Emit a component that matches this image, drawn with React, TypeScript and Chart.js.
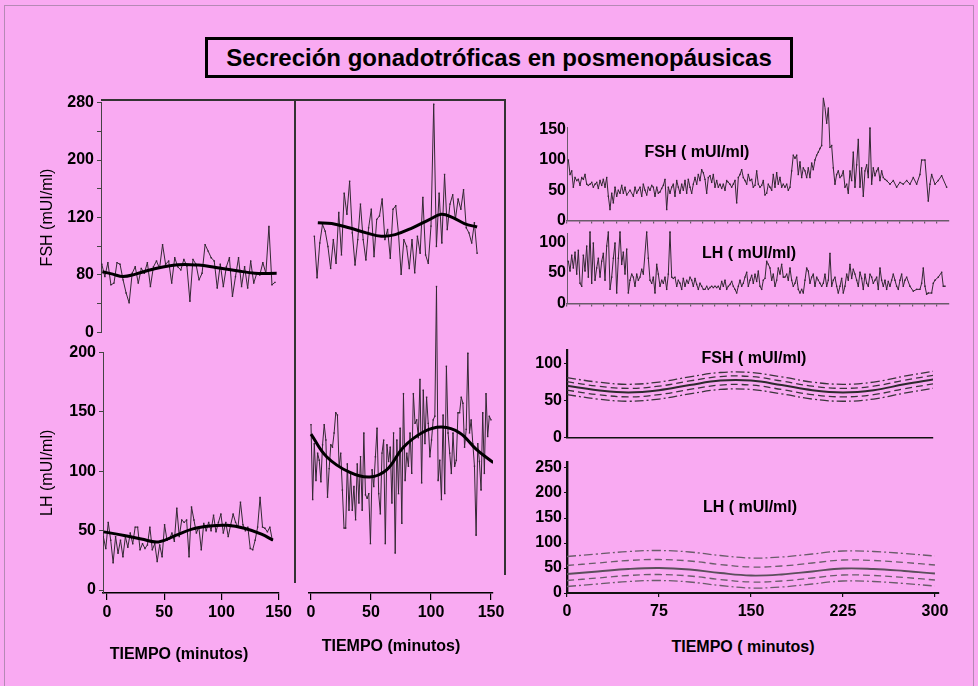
import React, { useEffect, useRef } from "react";
import { Chart, registerables } from "chart.js";

Chart.register(...registerables);

const FONT = "'Liberation Sans', Arial, Helvetica, sans-serif";
const PINK = "rgb(249,170,242)";
const TRACE = "#332833";

// ---------------- data ----------------
// Left column, FSH (axis labels 0/80/120/200/280 sit at scale units 0/70/140/210/280)
const FSH_AXIS_TICKS = [0, 35, 70, 105, 140, 175, 210, 245, 280];
const FSH_AXIS_LABELS = ["0", "", "80", "", "120", "", "200", "", "280"];
const LH_AXIS_TICKS = [0, 50, 100, 150, 200];
const LH_AXIS_LABELS = ["0", "50", "100", "150", "200"];
const TIME_TICKS = [0, 50, 100, 150];
const TIME_LABELS = ["0", "50", "100", "150"];

const LEFT_FSH_T0 = -4.5;
const LEFT_FSH_DT = 2.65;
const LEFT_FSH = [83, 68, 85, 58, 60, 85, 83, 64, 48, 36, 72, 80, 60, 78, 72, 85, 56, 80, 87, 78, 107, 83, 87, 60, 91, 80, 76, 89, 81, 38, 89, 83, 64, 72, 107, 99, 91, 87, 54, 83, 56, 80, 91, 44, 68, 91, 56, 80, 54, 87, 60, 72, 70, 85, 72, 129, 58, 61];
const LEFT_FSH_FIT_T = [-4, 5, 14, 25, 40, 62, 80, 95, 112, 129, 148];
const LEFT_FSH_FIT = [74, 71, 68, 71, 77, 82.5, 82, 79, 75.5, 72, 72];

const LEFT_LH_T0 = -3.2;
const LEFT_LH_DT = 2.14;
const LEFT_LH = [45, 35, 57, 42, 23, 45, 31, 42, 28, 45, 36, 48, 39, 53, 53, 34, 39, 35, 38, 53, 34, 39, 24, 38, 28, 55, 42, 43, 48, 41, 69, 45, 59, 57, 59, 28, 70, 59, 48, 53, 34, 56, 50, 57, 50, 63, 49, 57, 64, 48, 57, 45, 55, 64, 57, 53, 74, 55, 50, 53, 35, 34, 42, 53, 78, 53, 52, 49, 53, 42];
const LEFT_LH_FIT_T = [-3, 15, 30, 45, 60, 75, 90, 105, 120, 135, 145];
const LEFT_LH_FIT = [49, 46, 43, 40.5, 46, 51.5, 54, 54.5, 52, 47, 42];

// Middle column
const MID_FSH_T0 = 0;
const MID_FSH_DT = 2.35;
const MID_FSH = [119, 70, 111, 133, 125, 107, 81, 115, 87, 147, 97, 170, 145, 184, 123, 85, 115, 157, 115, 91, 129, 151, 95, 139, 143, 163, 115, 127, 93, 151, 155, 123, 74, 115, 107, 81, 115, 76, 119, 99, 165, 97, 87, 131, 275, 107, 170, 111, 192, 127, 157, 168, 139, 163, 151, 174, 129, 123, 111, 135, 99];
const MID_FSH_FIT_T = [3, 15, 30, 45, 58, 70, 85, 100, 110, 120, 130, 141];
const MID_FSH_FIT = [135, 134, 129, 123, 119, 121, 129, 139, 145, 141, 134, 130];

const MID_LH_T0 = 0;
const MID_LH_DT = 1.376;
const MID_LH = [139, 76, 123, 92, 115, 109, 91, 122, 139, 126, 78, 102, 122, 120, 132, 149, 147, 104, 115, 84, 52, 52, 106, 67, 98, 67, 87, 59, 106, 73, 112, 67, 132, 80, 77, 81, 39, 101, 87, 112, 136, 81, 64, 115, 126, 39, 122, 108, 120, 73, 132, 31, 126, 81, 136, 56, 165, 92, 115, 104, 132, 98, 165, 140, 143, 128, 177, 90, 168, 123, 162, 140, 112, 126, 143, 146, 255, 92, 109, 76, 147, 81, 188, 132, 115, 98, 132, 104, 109, 149, 149, 162, 157, 120, 135, 199, 132, 143, 123, 104, 46, 123, 108, 84, 149, 98, 165, 129, 146, 143];
const MID_LH_FIT_T = [0, 13, 32, 49, 63, 77, 94, 109, 124, 138, 152];
const MID_LH_FIT = [131, 112, 99, 95, 101, 120, 133, 137, 132, 118, 107];

// Right column, 300-minute series (null = no sample at that slot)
const RIGHT_T0 = 1.1;
const RIGHT_DT = 1.351;
const RIGHT_FSH = [
  100, 76, 82, 55, 71, 66, 68, 58, 71, 68,
  76, 60, 58, 60, 63, 55, 60, 63, 53, 66,
  58, 68, 55, 71, 40, 18, 45, 29, 55, 40,
  50, 45, 58, 45, 55, 42, null, 50, null, 40,
  55, 45, 50, 55, 40, 60, 50, 42, 55, 50,
  58, 55, 40, 55, 45, 47, 53, 58, 68, 18,
  55, 45, 55, 60, 40, 66, 55, 45, 60, 50,
  66, 45, 68, 55, 45, 60, 71, 60, 76, 66,
  84, 79, 68, 45, 71, 74, 63, 76, 55, 66,
  55, 60, 53, 60, 50, 66, 63, 60, 55, 60,
  66, 29, 71, 76, 84, 71, 66, 60, 76, 66,
  68, 55, 58, 82, 60, 55, 58, 66, 42, 45,
  60, 55, 50, 76, 55, 79, 60, 71, 55, 60,
  55, 60, 50, 55, 82, 108, 103, 108, 76, 97,
  71, 87, 82, 71, 87, 71, 95, 84, 100, 108,
  113, 119, 124, 203, 187, 161, 187, 121, 124, 87,
  60, 76, 82, 71, 74, 82, 55, 60, 45, 82,
  66, 113, 55, 92, 134, 55, 87, 40, 82, 92,
  71, 153, 60, 87, 74, 82, 87, 66, 82, 71,
  68, 66, null, 60, null, 66, null, 55, null, 63,
  null, 60, null, 66, null, 60, null, 71, null, 60,
  null, 76, 100, null, 100, null, 32, 60, 76, null,
  60, null, 66, null, 74, null, null, 55,
];
const RIGHT_LH = [
  69, 53, 79, 58, 84, 48, 87, 33, 28, 79,
  53, 94, 43, 117, 33, 99, 38, 58, 74, 43,
  69, 82, 38, 94, 117, 23, 43, 74, 99, 17,
  74, 117, 64, 84, 48, 89, 17, 38, 48, 43,
  28, 48, 38, 43, 56, 48, null, 117, 74, 38,
  33, 43, 17, 64, 48, 28, 38, 33, 43, 23,
  48, 117, 43, 41, 43, 28, 38, 33, 23, 41,
  28, 38, 33, 43, 38, 28, 41, 31, 23, 33,
  28, 23, 23, 28, 23, 26, 28, 26, 28, 26,
  28, 23, 36, 28, 38, 23, 28, 31, 36, 28,
  23, 17, 28, 38, 28, 33, 43, 51, 28, 38,
  46, 33, 48, 36, 53, 28, 23, 38, 41, 69,
  64, 58, 38, 48, 28, 38, 58, 48, 64, 43,
  43, 48, 38, 58, 38, 28, 33, 43, 23, 17,
  23, 17, 38, 58, 53, 33, 43, 48, 28, 43,
  38, 33, 28, 33, 48, 28, 38, 82, 28, 38,
  43, 28, 17, 28, 41, 17, 28, 48, 38, 64,
  41, 56, 48, 38, 28, 51, 41, 23, 48, 33,
  28, 48, 43, 33, 38, 43, 23, 58, 38, 28,
  38, 23, 36, 28, 38, 48, 38, 28, 23, 38,
  48, 28, 38, 43, null, 28, null, 20, null, 23,
  null, 23, 33, 58, 28, 15, 17, null, 17, 33,
  38, null, 43, null, 51, 28, 28,
];
const RIGHT_MINOR_TICKS = [0, 10, 20, 30, 40, 50, 60, 70, 80, 90, 100, 110, 120, 130, 140, 150, 160, 170, 180, 190, 200, 210, 220, 230, 240, 250, 260, 270, 280, 290, 300];
const RIGHT_FSH_TICKS = [0, 50, 100, 150];
const RIGHT_LH_TICKS = [0, 50, 100];

// Right column, fitted rhythms with bands
const BAND_T = [0, 25, 50, 75, 100, 125, 150, 175, 200, 225, 250, 275, 300];
const BAND_FSH_MID = [70, 64, 61, 64, 71, 77, 77, 71, 64, 61, 64, 72, 79];
const BAND_FSH_UP2 = [81, 75, 72, 75, 82, 88, 88, 82, 75, 72, 75, 83, 90];
const BAND_FSH_UP1 = [75.5, 69.5, 66.5, 69.5, 76.5, 82.5, 82.5, 76.5, 69.5, 66.5, 69.5, 77.5, 84.5];
const BAND_FSH_LO1 = [64, 58, 55, 58, 65, 71, 71, 65, 58, 55, 58, 66, 73];
const BAND_FSH_LO2 = [58, 52, 49, 52, 59, 65, 65, 59, 52, 49, 52, 60, 67];
const BAND_LH_MID = [38, 43, 48, 50, 47, 40, 35, 37, 43, 49, 48, 44, 39];
const BAND_LH_UP2 = [73, 78, 83, 85, 82, 75, 70, 72, 78, 84, 83, 79, 74];
const BAND_LH_UP1 = [55, 60, 65, 67, 64, 57, 52, 54, 60, 66, 65, 61, 56];
const BAND_LH_LO1 = [25, 30, 35, 37, 34, 27, 22, 24, 30, 36, 35, 31, 26];
const BAND_LH_LO2 = [13, 18, 23, 25, 22, 15, 10, 12, 18, 24, 23, 19, 14];
const BAND_FSH_TICKS = [0, 50, 100];
const BAND_LH_TICKS = [0, 50, 100, 150, 200, 250];
const BAND_TIME_TICKS = [0, 75, 150, 225, 300];
const BAND_TIME_LABELS = ["0", "75", "150", "225", "300"];

// ---------------- helpers ----------------
const TXT = { family: FONT, size: 16, weight: "bold" as const };

const seq = (t0: number, dt: number, vals: (number | null)[]) =>
  vals.map((v, i) => ({ x: t0 + i * dt, y: v }));
const pairs = (ts: number[], vals: number[]) => vals.map((v, i) => ({ x: ts[i], y: v }));

function trace(data: any[], extra: any = {}) {
  return {
    data,
    borderColor: TRACE,
    borderWidth: 1,
    pointRadius: 1,
    pointStyle: "rect",
    pointBackgroundColor: TRACE,
    pointBorderWidth: 0,
    tension: 0,
    spanGaps: true,
    ...extra,
  };
}
function fit(data: any[]) {
  return { data, borderColor: "#000", borderWidth: 3, pointRadius: 0, tension: 0.4 };
}
function band(data: any[], dash: number[], color: string, width: number) {
  return { data, borderColor: color, borderWidth: width, borderDash: dash, pointRadius: 0, tension: 0.4 };
}

function yAxis(o: any) {
  const { min, max, width, ticks, labels, tick = 0, pad = 2, color = "#444", bw = 1, title, show = true } = o;
  return {
    type: "linear",
    position: "left",
    min,
    max,
    display: show,
    afterFit: (s: any) => {
      s.width = width;
    },
    afterBuildTicks: (s: any) => {
      s.ticks = (ticks || []).map((v: number) => ({ value: v }));
    },
    ticks: {
      autoSkip: false,
      padding: pad,
      color: "#000",
      font: TXT,
      callback: (_v: any, i: number) => (labels && labels[i] !== undefined ? labels[i] : ""),
    },
    grid: { display: true, drawOnChartArea: false, drawTicks: tick > 0, tickLength: tick, color, lineWidth: 1 },
    border: { display: true, color, width: bw },
    title: title
      ? { display: true, text: title, color: "#000", font: { family: FONT, size: 16 }, padding: { top: 8, bottom: 0 } }
      : { display: false },
  };
}

function xAxis(o: any) {
  const { min, max, height = 0, ticks = [], labels = [], tick = 0, pad = 2, color = "#000", bw = 1.5, show = true } = o;
  return {
    type: "linear",
    position: "bottom",
    min,
    max,
    display: show,
    afterFit: (s: any) => {
      s.height = height;
    },
    afterBuildTicks: (s: any) => {
      s.ticks = ticks.map((v: number) => ({ value: v }));
    },
    ticks: {
      display: labels.length > 0,
      autoSkip: false,
      maxRotation: 0,
      minRotation: 0,
      padding: pad,
      color: "#000",
      font: TXT,
      callback: (_v: any, i: number) => (labels[i] !== undefined ? labels[i] : ""),
    },
    grid: { display: tick > 0, drawOnChartArea: false, drawTicks: tick > 0, tickLength: tick, color, lineWidth: 1.2 },
    border: { display: true, color, width: bw },
  };
}

function config(datasets: any[], scales: any, padding: any) {
  return {
    type: "line",
    data: { datasets },
    options: {
      responsive: false,
      animation: false,
      events: [],
      layout: { padding },
      plugins: { legend: { display: false }, tooltip: { enabled: false }, title: { display: false } },
      scales,
    },
  };
}

// ---------------- panels ----------------
const PANELS: { key: string; x: number; y: number; w: number; h: number; make: () => any }[] = [
  {
    key: "leftFsh",
    x: 30, y: 90, w: 270, h: 255,
    make: () =>
      config(
        [fit(pairs(LEFT_FSH_FIT_T, LEFT_FSH_FIT)), trace(seq(LEFT_FSH_T0, LEFT_FSH_DT, LEFT_FSH))],
        {
          x: xAxis({ min: -5.2, max: 164, show: false }),
          y: yAxis({ min: 0, max: 280, width: 71, ticks: FSH_AXIS_TICKS, labels: FSH_AXIS_LABELS, tick: 4, pad: 3, title: "FSH (mUI/ml)" }),
        },
        { top: 10, right: 5, bottom: 8, left: 0 }
      ),
  },
  {
    key: "leftLh",
    x: 30, y: 340, w: 265, h: 279,
    make: () =>
      config(
        [fit(pairs(LEFT_LH_FIT_T, LEFT_LH_FIT)), trace(seq(LEFT_LH_T0, LEFT_LH_DT, LEFT_LH))],
        {
          x: xAxis({ min: -3.5, max: 150, height: 26, ticks: TIME_TICKS, labels: TIME_LABELS, tick: 7, pad: 3 }),
          y: yAxis({ min: -2.5, max: 200, width: 73, ticks: LH_AXIS_TICKS, labels: LH_AXIS_LABELS, tick: 4, pad: 3, title: "LH (mUI/ml)" }),
        },
        { top: 12, right: 16, bottom: 0, left: 0 }
      ),
  },
  {
    key: "midFsh",
    x: 295, y: 90, w: 210, h: 257,
    make: () =>
      config(
        [fit(pairs(MID_FSH_FIT_T, MID_FSH_FIT)), trace(seq(MID_FSH_T0, MID_FSH_DT, MID_FSH))],
        {
          x: xAxis({ min: -13.3, max: 161.7, show: false }),
          y: yAxis({ min: 0, max: 280, width: 0, show: false }),
        },
        { top: 10, right: 0, bottom: 10, left: 0 }
      ),
  },
  {
    key: "midLh",
    x: 295, y: 270, w: 215, h: 349,
    make: () =>
      config(
        [fit(pairs(MID_LH_FIT_T, MID_LH_FIT)), trace(seq(MID_LH_T0, MID_LH_DT, MID_LH))],
        {
          x: xAxis({ min: -1.67, max: 151.67, height: 26, ticks: TIME_TICKS, labels: TIME_LABELS, tick: 7, pad: 3 }),
          y: yAxis({ min: -2.5, max: 260.5, width: 0, show: false }),
        },
        { top: 10, right: 17, bottom: 0, left: 14 }
      ),
  },
  {
    key: "rightFsh",
    x: 520, y: 85, w: 438, h: 146,
    make: () =>
      config(
        [trace(seq(RIGHT_T0, RIGHT_DT, RIGHT_FSH), { clip: false })],
        {
          x: xAxis({ min: 0, max: 309.7, height: 6, ticks: RIGHT_MINOR_TICKS, tick: 3, color: "#6a5a6a", bw: 1.5 }),
          y: yAxis({ min: 0, max: 154.7, width: 47, ticks: RIGHT_FSH_TICKS, labels: RIGHT_FSH_TICKS.map(String), tick: 0, pad: 1, color: "#6a5a6a" }),
        },
        { top: 42, right: 9, bottom: 0, left: 0 }
      ),
  },
  {
    key: "rightLh",
    x: 520, y: 215, w: 438, h: 99,
    make: () =>
      config(
        [trace(seq(RIGHT_T0, RIGHT_DT, RIGHT_LH), { clip: false })],
        {
          x: xAxis({ min: 0, max: 309.7, height: 6, ticks: RIGHT_MINOR_TICKS, tick: 3, color: "#6a5a6a", bw: 1.5 }),
          y: yAxis({ min: 0, max: 115.4, width: 47, ticks: RIGHT_LH_TICKS, labels: RIGHT_LH_TICKS.map(String), tick: 0, pad: 1, color: "#6a5a6a" }),
        },
        { top: 18, right: 9, bottom: 0, left: 0 }
      ),
  },
  {
    key: "bandFsh",
    x: 520, y: 335, w: 438, h: 114,
    make: () =>
      config(
        [
          band(pairs(BAND_T, BAND_FSH_MID), [], "#2e2a2e", 2),
          band(pairs(BAND_T, BAND_FSH_UP1), [7, 4], "#3a343a", 1.3),
          band(pairs(BAND_T, BAND_FSH_LO1), [7, 4], "#3a343a", 1.3),
          band(pairs(BAND_T, BAND_FSH_UP2), [9, 3, 2, 3], "#3a343a", 1.3),
          band(pairs(BAND_T, BAND_FSH_LO2), [9, 3, 2, 3], "#3a343a", 1.3),
        ],
        {
          x: xAxis({ min: 0, max: 298.4, height: 3, color: "#111", bw: 1.6 }),
          y: yAxis({ min: 0, max: 118.5, width: 47, ticks: BAND_FSH_TICKS, labels: BAND_FSH_TICKS.map(String), tick: 3, pad: 2, color: "#111", bw: 2.2 }),
        },
        { top: 15, right: 25, bottom: 0, left: 0 }
      ),
  },
  {
    key: "bandLh",
    x: 520, y: 450, w: 438, h: 169,
    make: () =>
      config(
        [
          band(pairs(BAND_T, BAND_LH_MID), [], "#5b4e5b", 1.8),
          band(pairs(BAND_T, BAND_LH_UP1), [7, 4], "#6a5c6a", 1.3),
          band(pairs(BAND_T, BAND_LH_LO1), [7, 4], "#6a5c6a", 1.3),
          band(pairs(BAND_T, BAND_LH_UP2), [9, 3, 2, 3], "#6a5c6a", 1.3),
          band(pairs(BAND_T, BAND_LH_LO2), [9, 3, 2, 3], "#6a5c6a", 1.3),
        ],
        {
          x: xAxis({ min: 0, max: 303.3, height: 26, ticks: BAND_TIME_TICKS, labels: BAND_TIME_LABELS, tick: 4, pad: 5, color: "#111", bw: 2 }),
          y: yAxis({ min: 0, max: 262, width: 47, ticks: BAND_LH_TICKS, labels: BAND_LH_TICKS.map(String), tick: 3, pad: 2, color: "#111", bw: 2.4 }),
        },
        { top: 12, right: 19, bottom: 0, left: 0 }
      ),
  },
];

function ChartCanvas({ x, y, w, h, make }: { x: number; y: number; w: number; h: number; make: () => any }) {
  const ref = useRef<HTMLCanvasElement | null>(null);
  useEffect(() => {
    if (!ref.current) return;
    const chart = new Chart(ref.current, make());
    return () => chart.destroy();
  }, []);
  return (
    <canvas
      ref={ref}
      width={w}
      height={h}
      style={{ position: "absolute", left: x, top: y, width: w, height: h }}
    />
  );
}

const labelStyle = (cx: number, cy: number, size = 16): React.CSSProperties => ({
  position: "absolute",
  left: cx,
  top: cy,
  transform: "translate(-50%, -50%)",
  fontFamily: FONT,
  fontWeight: "bold",
  fontSize: size,
  lineHeight: 1,
  whiteSpace: "nowrap",
  color: "#000",
});

const line = (l: number, t: number, w: number, h: number): React.CSSProperties => ({
  position: "absolute",
  left: l,
  top: t,
  width: w,
  height: h,
  background: "#333",
});

export default function App() {
  return (
    <div
      style={{
        position: "fixed",
        left: 0,
        top: 0,
        width: 978,
        height: 686,
        background: PINK,
        overflow: "hidden",
      }}
    >
      <div
        style={{
          position: "absolute",
          left: 4,
          top: 5,
          width: 968,
          height: 700,
          border: "1px solid #b58ab5",
        }}
      />
      <div
        style={{
          position: "absolute",
          left: 205,
          top: 37,
          width: 588,
          height: 41,
          boxSizing: "border-box",
          border: "3px solid #000",
          display: "flex",
          alignItems: "center",
          justifyContent: "center",
          fontFamily: FONT,
          fontWeight: "bold",
          fontSize: 24,
          color: "#000",
          whiteSpace: "nowrap",
        }}
      >
        Secreción gonadotróficas en posmenopáusicas
      </div>

      {/* frame of the left and middle panels */}
      <div style={line(101, 99, 404, 1.5)} />
      <div style={line(294, 99, 1.5, 484)} />
      <div style={line(504, 99, 1.5, 476)} />

      {PANELS.map((p) => (
        <ChartCanvas key={p.key} x={p.x} y={p.y} w={p.w} h={p.h} make={p.make} />
      ))}

      <div style={labelStyle(697, 152)}>FSH ( mUI/ml)</div>
      <div style={labelStyle(749, 253)}>LH ( mUI/ml)</div>
      <div style={labelStyle(754, 358)}>FSH ( mUI/ml)</div>
      <div style={labelStyle(750, 507)}>LH ( mUI/ml)</div>
      <div style={labelStyle(179, 654)}>TIEMPO (minutos)</div>
      <div style={labelStyle(391, 646)}>TIEMPO (minutos)</div>
      <div style={labelStyle(743, 647)}>TIEMPO ( minutos)</div>
    </div>
  );
}
